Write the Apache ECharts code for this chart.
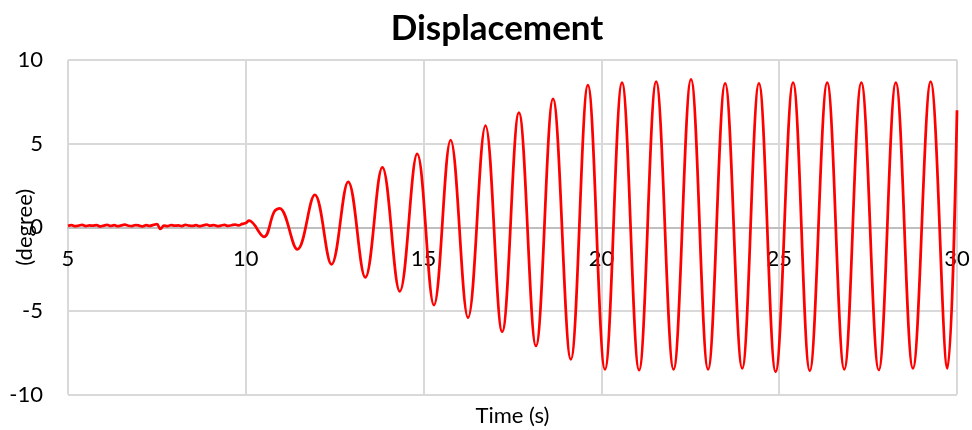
<!DOCTYPE html>
<html>
<head>
<meta charset="utf-8">
<script src="https://cdn.jsdelivr.net/npm/echarts@6/dist/echarts.min.js"></script>
<style>html,body{margin:0;padding:0;background:#fff}#c{width:972px;height:430px}</style>
</head>
<body>
<div id="c"></div>
<script>
// Time (s)
var timeS = [
  5.0,5.1,5.2,5.3,5.4,5.5,5.6,5.7,5.8,5.9,
  6.0,6.1,6.2,6.3,6.4,6.5,6.6,6.7,6.8,6.9,
  7.0,7.1,7.2,7.3,7.4,7.5,7.6,7.7,7.8,7.9,
  8.0,8.1,8.2,8.3,8.4,8.5,8.6,8.7,8.8,8.9,
  9.0,9.1,9.2,9.3,9.4,9.5,9.6,9.7,9.8,9.9,
  10.0,10.09,10.51,10.80,10.95,11.45,
  11.94,12.41,12.88,13.36,13.84,14.33,14.82,15.29,15.76,16.25,
  16.74,17.21,17.68,18.16,18.64,19.14,19.62,20.10,20.58,21.06,
  21.54,22.03,22.52,23.00,23.48,23.96,24.43,24.90,25.39,25.86,
  26.35,26.83,27.31,27.80,28.28,28.76,29.26,29.73,30.0
];
// Displacement (degree)
var displacementDeg = [
  0.08,0.12,0.06,0.10,0.14,0.07,0.11,0.09,0.13,0.05,
  0.10,0.14,0.08,0.12,0.06,0.11,0.15,0.09,0.07,0.13,
  0.10,0.05,0.12,0.08,0.14,0.18,-0.10,0.10,0.06,0.13,
  0.09,0.11,0.07,0.14,0.10,0.08,0.12,0.06,0.11,0.15,
  0.09,0.13,0.07,0.10,0.14,0.08,0.12,0.16,0.11,0.20,
  0.25,0.39,-0.57,0.93,1.13,-1.32,
  1.93,-2.22,2.72,-3.00,3.58,-3.83,4.38,-4.65,5.21,-5.41,
  6.07,-6.25,6.85,-7.10,7.67,-7.90,8.50,-8.50,8.64,-8.54,
  8.70,-8.50,8.84,-8.50,8.60,-8.44,8.60,-8.64,8.64,-8.58,
  8.64,-8.50,8.64,-8.54,8.64,-8.44,8.70,-8.44,7.0
];
var chartTitle = 'Displacement';
var xAxisTitle = 'Time (s)';
var yAxisTitle = '(degree)';
var xRange = [5, 30];
var yRange = [-10, 10];
var tickStep = 5;

var FONT = 'Lato, "Open Sans", sans-serif';
var GRID = {left: 68, right: 15, top: 60, bottom: 35.5};
var chart = echarts.init(document.getElementById('c'), null, {renderer: 'canvas'});
var pts = timeS.map(function (t, i) { return [t, displacementDeg[i]]; });
// move the x axis up to the y = 0 line (axis crosses at zero)
var plotH = 430 - GRID.top - GRID.bottom;
var zeroOffset = -plotH * (0 - yRange[0]) / (yRange[1] - yRange[0]);

chart.setOption({
  animation: false,
  backgroundColor: '#ffffff',
  grid: {left: GRID.left, right: GRID.right, top: GRID.top, bottom: GRID.bottom, containLabel: false, outerBoundsMode: 'none'},
  graphic: [
    {type: 'text', x: 497, y: 29, style: {text: chartTitle, font: 'bold 35px ' + FONT, fill: '#000', textAlign: 'center', textVerticalAlign: 'middle'}},
    {type: 'text', x: 512.5, y: 416, style: {text: xAxisTitle, font: '22px ' + FONT, fill: '#000', textAlign: 'center', textVerticalAlign: 'middle'}}
  ],
  xAxis: {
    type: 'value', min: xRange[0], max: xRange[1], interval: tickStep,
    position: 'bottom', offset: zeroOffset,
    axisLine: {show: true, onZero: false, lineStyle: {color: '#bfbfbf', width: 2}},
    axisTick: {show: false},
    axisLabel: {color: '#000', fontSize: 22, fontFamily: FONT, margin: 21, showMinLabel: true, showMaxLabel: true},
    splitLine: {show: true, lineStyle: {color: '#d9d9d9', width: 2}}
  },
  yAxis: {
    type: 'value', min: yRange[0], max: yRange[1], interval: tickStep,
    name: yAxisTitle, nameLocation: 'middle', nameRotate: 90, nameGap: 32, nameMoveOverlap: false,
    nameTextStyle: {color: '#000', fontSize: 22, fontFamily: FONT},
    axisLine: {show: false, onZero: false},
    axisTick: {show: false},
    axisLabel: {color: '#000', fontSize: 22, fontFamily: FONT, margin: 25},
    splitLine: {show: true, lineStyle: {color: '#d9d9d9', width: 2}}
  },
  series: [{
    type: 'line', data: pts, smooth: 0.38, showSymbol: false, symbol: 'none',
    lineStyle: {color: '#ff0000', width: 2.75}, clip: true, z: 5
  }]
});
</script>
</body>
</html>
